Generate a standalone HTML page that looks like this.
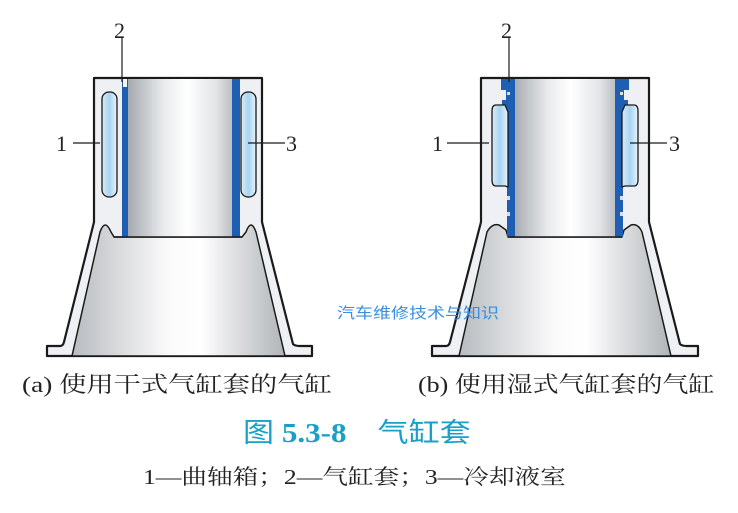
<!DOCTYPE html>
<html><head><meta charset="utf-8"><style>
body{margin:0;background:#fff;width:738px;height:513px;overflow:hidden;position:relative;font-family:"Liberation Serif","Noto Serif CJK SC",serif}
.t{position:absolute;white-space:nowrap;color:#222;transform-origin:0 0}
</style></head><body>
<svg width="738" height="513" style="position:absolute;left:0;top:0">
<defs>
<linearGradient id="bore" x1="0" x2="1"><stop offset="0" stop-color="#9a9ea3"/><stop offset="0.35" stop-color="#e8eaec"/><stop offset="0.55" stop-color="#fff"/><stop offset="0.8" stop-color="#e2e4e6"/><stop offset="1" stop-color="#a8acb0"/></linearGradient>
<linearGradient id="cone" x1="0" x2="1"><stop offset="0" stop-color="#b8bcc0"/><stop offset="0.45" stop-color="#fafafa"/><stop offset="0.6" stop-color="#fff"/><stop offset="1" stop-color="#b0b4b8"/></linearGradient>
<linearGradient id="wat" x1="0" x2="1"><stop offset="0" stop-color="#d8ecf8"/><stop offset="0.5" stop-color="#a8d4f0"/><stop offset="1" stop-color="#e8f4fc"/></linearGradient>
</defs>
<g stroke="#1a1a1a" stroke-width="2.2" stroke-linejoin="round">
<path d="M94 78 H262 V222 L293 344 Q295 346 300 346 H312 V356 H47 V346 H60 Q63 346 64 342 L94 222 Z" fill="#eef0f3"/>
<path d="M72 356 L100 232 Q105 218 111 232 L114 237 H242 L246 232 Q251 218 256 232 L285 356 Z" fill="url(#cone)" stroke-width="1.5"/>
<rect x="122" y="79" width="118" height="158" fill="url(#bore)" stroke="none"/>
<rect x="122" y="79" width="6" height="158" fill="#1e5fb4" stroke="none"/>
<rect x="232" y="79" width="8" height="158" fill="#1e5fb4" stroke="none"/>
<rect x="123" y="79" width="4" height="8" fill="#f4f6f8" stroke="none"/>
<line x1="114" y1="237" x2="242" y2="237" stroke-width="1.5"/>
<rect x="102" y="92" width="15" height="105" rx="7" fill="url(#wat)" stroke-width="1.3"/>
<rect x="241" y="92" width="15" height="105" rx="7" fill="url(#wat)" stroke-width="1.3"/>
<path d="M481 78 H649 V222 L680 344 Q682 346 687 346 H698 V356 H432 V346 H446 Q449 346 450 342 L481 222 Z" fill="#eef0f3"/>
<path d="M459 356 L487 232 Q492 223 499 225 L506 230 L508 237 H622 L624 230 L631 225 Q638 223 642 232 L671 356 Z" fill="url(#cone)" stroke-width="1.5"/>
<rect x="507" y="79" width="116" height="158" fill="url(#bore)" stroke="none"/>
<path d="M501 79 H515 V237 H507 V150 H502 V100 H506 V90 H501 Z" fill="#1e5fb4" stroke="none"/>
<path d="M629 79 H615 V237 H623 V150 H628 V100 H624 V90 H629 Z" fill="#1e5fb4" stroke="none"/>
<rect x="507" y="92" width="3" height="3" fill="#ddd" stroke="none"/><rect x="620" y="92" width="3" height="3" fill="#ddd" stroke="none"/>
<rect x="507" y="196" width="3" height="4" fill="#ddd" stroke="none"/><rect x="507" y="212" width="3" height="4" fill="#ddd" stroke="none"/>
<rect x="620" y="196" width="3" height="4" fill="#ddd" stroke="none"/><rect x="620" y="212" width="3" height="4" fill="#ddd" stroke="none"/>
<line x1="508" y1="237" x2="622" y2="237" stroke-width="1.5"/>
<path d="M496 105 H505 L508 112 V187 L505 186 H496 Q492 186 492 180 V111 Q492 105 496 105 Z" fill="url(#wat)" stroke-width="1.3"/>
<path d="M634 105 H625 L622 112 V187 L625 186 H634 Q638 186 638 180 V111 Q638 105 634 105 Z" fill="url(#wat)" stroke-width="1.3"/>
</g>
<g stroke="#1a1a1a" stroke-width="1.2">
<line x1="122" y1="38" x2="122" y2="82"/><line x1="73" y1="143" x2="100" y2="143"/><line x1="248" y1="143" x2="285" y2="143"/>
<line x1="509" y1="38" x2="509" y2="82"/><line x1="447" y1="143" x2="489" y2="143"/><line x1="630" y1="143" x2="667" y2="143"/>
</g>
<g font-family="Liberation Serif,serif" font-size="22" fill="#222">
<text x="114" y="38">2</text><text x="56" y="151">1</text><text x="286" y="151">3</text>
<text x="501" y="38">2</text><text x="432" y="151">1</text><text x="669" y="151">3</text>
</g>
</svg>
<div class="t" style="left:337px;top:302px;font:15px 'Liberation Sans','Noto Sans CJK SC',sans-serif;color:#3a8ee0;transform:scaleX(1.2)">汽车维修技术与知识</div>
<div class="t" style="left:22px;top:368px;font-size:22px;transform:scaleX(1.24)">(a) 使用干式气缸套的气缸</div>
<div class="t" style="left:418px;top:368px;font-size:22px;transform:scaleX(1.18)">(b) 使用湿式气缸套的气缸</div>
<div class="t" style="left:243px;top:411px;font-size:27px;color:#1aa0c8;font-family:'Liberation Serif','Noto Sans CJK SC',serif;transform:scaleX(1.15)"><span>图 </span><b>5.3-8</b><span>　气缸套</span></div>
<div class="t" style="left:143px;top:461px;font-size:21px;transform:scaleX(1.22)">1—曲轴箱；2—气缸套；3—冷却液室</div>
</body></html>
